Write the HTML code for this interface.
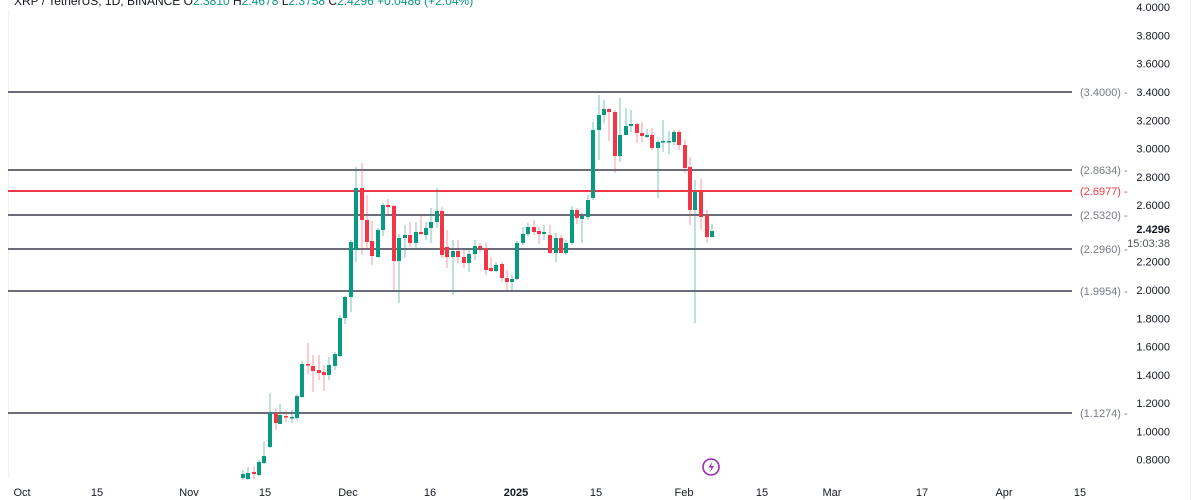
<!DOCTYPE html>
<html><head><meta charset="utf-8"><style>
html,body{margin:0;padding:0;background:#fff;width:1200px;height:500px;overflow:hidden;font-family:"Liberation Sans",sans-serif}
</style></head><body>
<svg id="s" width="1200" height="500" xmlns="http://www.w3.org/2000/svg" font-family="Liberation Sans, sans-serif">
<line x1="8.5" y1="10" x2="8.5" y2="478" stroke="#f0f0f0"/>
<line x1="1190.5" y1="0" x2="1190.5" y2="500" stroke="#eeeeee"/>
<text x="14" y="5" font-size="12" fill="#131722">XRP / TetherUS, 1D, BINANCE <tspan fill="#131722">O</tspan><tspan fill="#089981">2.3810</tspan> H<tspan fill="#089981">2.4678</tspan> L<tspan fill="#089981">2.3758</tspan> C<tspan fill="#089981">2.4296</tspan> <tspan fill="#089981">+0.0486 (+2.04%)</tspan></text>
<g id="lv"></g><g id="cd"></g><g id="ax" font-size="11" fill="#131722"></g>
<circle cx="711" cy="467" r="8" fill="none" stroke="#9c27b0" stroke-width="1.6"/>
<path d="M712.5 461.5 L708.5 467.5 L711.5 467.5 L710 472.5 L714 466 L711 466 Z" fill="#9c27b0"/>
</svg>
<script>
const NS="http://www.w3.org/2000/svg";
function el(p,t,a,txt){const e=document.createElementNS(NS,t);for(const k in a)e.setAttribute(k,a[k]);if(txt)e.textContent=txt;document.getElementById(p).appendChild(e);return e;}
// price axis
for(let p=4.0;p>=0.79;p-=0.2){const y=290-(p-2)*141.43;if(Math.abs(p-2.4)<0.05)continue;el('ax','text',{x:1170,y:y+4,'text-anchor':'end'},p.toFixed(4));}
el('ax','text',{x:1170,y:233,'text-anchor':'end','font-weight':'bold'},'2.4296');
el('ax','text',{x:1170,y:247,'text-anchor':'end',fill:'#50535e'},'15:03:38');
// levels
[[92,'3.4000','#787b86'],[170,'2.8634','#787b86'],[191,'2.6977','#f23645'],[215,'2.5320','#787b86'],[249,'2.2960','#787b86'],[291,'1.9954','#787b86'],[413,'1.1274','#787b86']].forEach(l=>{
 el('lv','line',{x1:8,y1:l[0],x2:1072,y2:l[0],stroke:l[2]==='#f23645'?'#f23645':'#6a6d78','stroke-width':2});
 el('lv','text',{x:1080,y:l[0]+4,'font-size':11,fill:l[2]},'('+l[1]+') -');
});
// time axis
[[22,'Oct'],[97,'15'],[189,'Nov'],[265,'15'],[348,'Dec'],[430,'16'],[516,'2025',1],[596,'15'],[684,'Feb'],[762,'15'],[832,'Mar'],[922,'17'],[1004,'Apr'],[1080,'15']].forEach(t=>{
 const a={x:t[0],y:496,'text-anchor':'middle'};if(t[2])a['font-weight']='bold';el('ax','text',a,t[1]);});
// candles: x, open y, close y, high y, low y
const C=[[243,478,474,470,480],[248,479,473,467,480],[254,472,474,466,479],[259,475,462,460,476],[264,463,456,442,464],[270,447,413,393,448],[276,413,423,408,430],[280,424,415,404,424],[286,416,417,410,422],[292,418,417,410,423],[297,418,396,394,420],[302,397,364,361,398],[308,364,365,343,374],[313,366,371,355,392],[319,370,373,355,380],[324,372,375,365,391],[329,375,365,357,380],[335,366,354,352,370],[340,356,318,315,357],[345,318,297,296,324],[351,297,242,240,312],[356,250,188,167,262],[362,188,220,163,255],[367,220,242,195,250],[372,241,256,221,265],[378,257,230,228,258],[383,230,205,203,236],[388,205,207,199,215],[394,206,261,205,290],[399,261,238,234,303],[405,238,235,225,258],[410,235,243,222,247],[416,243,232,222,250],[421,232,234,215,235],[426,235,228,222,240],[431,228,222,208,243],[437,222,211,188,228],[442,211,255,207,258],[447,247,257,230,268],[453,257,251,240,295],[458,251,257,240,263],[464,257,263,250,268],[469,263,254,248,272],[475,254,246,240,260],[480,246,249,243,253],[486,248,270,243,275],[491,268,271,257,272],[496,271,265,262,272],[502,264,278,262,282],[507,278,282,270,291],[512,282,279,275,290],[517,279,243,241,280],[523,243,234,227,245],[528,234,227,223,236],[534,227,232,220,235],[539,231,234,227,244],[544,234,232,225,240],[550,235,253,225,254],[556,253,238,233,262],[561,238,253,235,253],[566,253,243,240,255],[572,243,210,206,245],[577,210,218,208,224],[582,219,216,212,243],[588,217,200,195,220],[593,198,130,122,200],[599,130,115,95,160],[604,115,109,100,123],[609,109,112,108,141],[615,112,156,110,173],[620,156,135,98,162],[626,135,126,108,133],[631,126,124,110,132],[637,124,133,123,143],[642,133,136,122,142],[647,137,135,129,138],[652,135,148,128,150],[658,148,142,140,198],[663,142,141,120,152],[669,142,141,131,154],[674,142,132,130,145],[679,132,145,130,150],[685,145,168,140,173],[690,167,210,157,225],[695,210,192,180,323],[701,192,217,179,230],[707,215,237,210,243],[712,237,231,224,238]];
C.forEach(c=>{const up=c[2]<c[1];const col=up?'#089981':'#f23645';const wc=up?'rgba(8,153,129,0.55)':'rgba(242,54,69,0.5)';
 el('cd','line',{x1:c[0],y1:c[3],x2:c[0],y2:c[4],stroke:wc,'stroke-width':1});
 const t=Math.min(c[1],c[2]),h=Math.max(1.5,Math.abs(c[1]-c[2]));
 el('cd','rect',{x:c[0]-2,y:t,width:4,height:h,fill:col});});
</script>
</body></html>
